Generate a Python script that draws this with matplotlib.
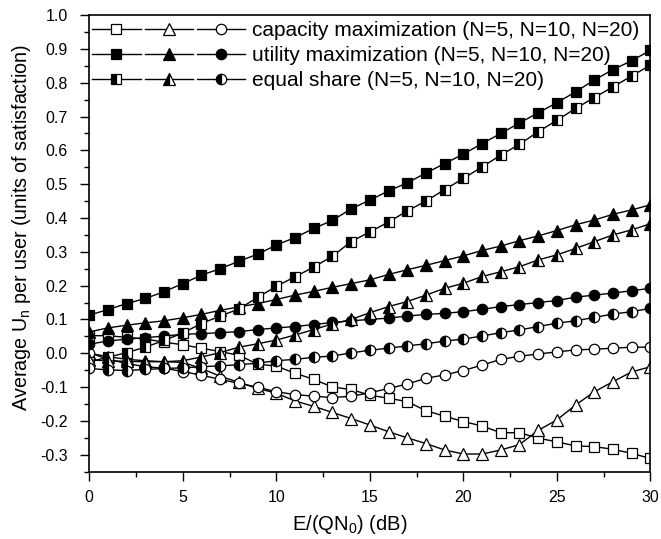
import numpy as np
import matplotlib
matplotlib.use('Agg')
import matplotlib.pyplot as plt
from matplotlib.legend_handler import HandlerTuple
from matplotlib.ticker import MultipleLocator

plt.rcParams['font.family'] = ['Liberation Sans', 'DejaVu Sans']
plt.rcParams['axes.unicode_minus'] = False
plt.rcParams['mathtext.fontset'] = 'custom'
plt.rcParams['mathtext.rm'] = 'Liberation Sans'
plt.rcParams['mathtext.it'] = 'Liberation Sans'

snr_db = np.arange(0, 31)

cap_n5 = [0.052, 0.052, 0.047, 0.042, 0.033, 0.025, 0.015, 0.005, -0.006, -0.032, -0.038,
          -0.059, -0.077, -0.100, -0.107, -0.124, -0.133, -0.143, -0.170, -0.186, -0.202,
          -0.215, -0.235, -0.235, -0.251, -0.262, -0.274, -0.276, -0.284, -0.296, -0.311]
cap_n10 = [0.000, -0.010, -0.018, -0.022, -0.025, -0.027, -0.045, -0.068, -0.086, -0.104, -0.118,
           -0.141, -0.157, -0.175, -0.193, -0.212, -0.232, -0.250, -0.267, -0.286, -0.298,
           -0.298, -0.286, -0.270, -0.228, -0.197, -0.153, -0.114, -0.084, -0.055, -0.040]
cap_n20 = [0.002, -0.018, -0.030, -0.040, -0.044, -0.054, -0.065, -0.077, -0.089, -0.100, -0.114,
           -0.122, -0.127, -0.131, -0.127, -0.117, -0.104, -0.091, -0.074, -0.064, -0.051,
           -0.035, -0.018, -0.009, -0.002, 0.004, 0.010, 0.012, 0.015, 0.018, 0.018]

util_n5 = [0.113, 0.129, 0.147, 0.162, 0.182, 0.206, 0.231, 0.250, 0.272, 0.293, 0.320,
           0.342, 0.369, 0.393, 0.427, 0.453, 0.480, 0.504, 0.533, 0.561, 0.589,
           0.620, 0.650, 0.681, 0.711, 0.741, 0.773, 0.808, 0.839, 0.865, 0.896]
util_n10 = [0.063, 0.075, 0.083, 0.090, 0.096, 0.105, 0.115, 0.127, 0.137, 0.147, 0.159,
            0.172, 0.183, 0.195, 0.206, 0.217, 0.233, 0.247, 0.260, 0.274, 0.288,
            0.304, 0.317, 0.333, 0.347, 0.363, 0.380, 0.394, 0.411, 0.424, 0.439]
util_n20 = [0.027, 0.036, 0.042, 0.046, 0.051, 0.056, 0.058, 0.061, 0.064, 0.070, 0.075,
            0.079, 0.085, 0.091, 0.096, 0.100, 0.104, 0.110, 0.115, 0.118, 0.123,
            0.130, 0.138, 0.144, 0.150, 0.156, 0.166, 0.172, 0.178, 0.185, 0.192]

eq_n5 = [-0.025, -0.012, 0.002, 0.018, 0.038, 0.060, 0.088, 0.110, 0.131, 0.165, 0.198,
         0.226, 0.255, 0.287, 0.330, 0.359, 0.388, 0.421, 0.450, 0.484, 0.517,
         0.551, 0.586, 0.618, 0.655, 0.689, 0.724, 0.756, 0.788, 0.820, 0.852]
eq_n10 = [-0.020, -0.022, -0.024, -0.025, -0.025, -0.022, -0.011, 0.002, 0.018, 0.028, 0.039,
          0.054, 0.070, 0.087, 0.100, 0.120, 0.138, 0.153, 0.172, 0.192, 0.207,
          0.227, 0.241, 0.256, 0.276, 0.291, 0.310, 0.330, 0.350, 0.365, 0.383]
eq_n20 = [-0.045, -0.049, -0.051, -0.048, -0.045, -0.043, -0.040, -0.037, -0.034, -0.029, -0.022,
          -0.018, -0.012, -0.008, 0.001, 0.009, 0.015, 0.022, 0.028, 0.036, 0.042,
          0.051, 0.061, 0.069, 0.079, 0.089, 0.096, 0.106, 0.116, 0.123, 0.133]

labels = ['capacity maximization (N=5, N=10, N=20)',
          'utility maximization (N=5, N=10, N=20)',
          'equal share (N=5, N=10, N=20)']

fig = plt.figure(figsize=(6.61, 5.39), dpi=100)
ax = fig.add_axes([0.135, 0.125, 0.849, 0.847])

markers = ['s', '^', 'o']
sizes = [7, 8, 7.5]
groups = [
    ([cap_n5, cap_n10, cap_n20], dict(markerfacecolor='white')),
    ([util_n5, util_n10, util_n20], dict(markerfacecolor='black')),
    ([eq_n5, eq_n10, eq_n20], dict(fillstyle='left', markerfacecolor='black',
                                   markerfacecoloralt='white')),
]

handles = []
for series, style in groups:
    row = []
    for vals, m, ms in zip(series, markers, sizes):
        ln, = ax.plot(snr_db, vals, color='black', lw=1.0, marker=m, ms=ms,
                      markeredgecolor='black', markeredgewidth=0.9, **style)
        row.append(ln)
    handles.append(tuple(row))

ax.legend(handles, labels, handler_map={tuple: HandlerTuple(ndivide=None, pad=0.2)},
          loc='upper left', bbox_to_anchor=(0, 0.994), frameon=False, fontsize=15,
          handlelength=7.35, handletextpad=0.29, borderaxespad=0, borderpad=0.15,
          labelspacing=0.3)

ax.set_xlim(0, 30)
ax.set_ylim(-0.35, 1.0)
ax.xaxis.set_major_locator(MultipleLocator(5))
ax.xaxis.set_minor_locator(MultipleLocator(2.5))
ax.yaxis.set_major_locator(MultipleLocator(0.1))
ax.yaxis.set_minor_locator(MultipleLocator(0.05))
ax.yaxis.set_major_formatter(matplotlib.ticker.FormatStrFormatter('%.1f'))
ax.tick_params(which='major', length=6.5, width=1, labelsize=11.5)
ax.tick_params(axis='y', which='major', pad=9)
ax.tick_params(axis='x', which='major', pad=7)
ax.tick_params(which='minor', length=3.5, width=1)
for s in ax.spines.values():
    s.set_linewidth(1.2)

ax.set_xlabel('E/(QN$_0$) (dB)', fontsize=14.5)
ax.set_ylabel('Average U$_n$ per user (units of satisfaction)', fontsize=14.2)
ax.xaxis.set_label_coords(0.465, -0.09)
ax.yaxis.set_label_coords(-0.10, 0.535)

fig.savefig('out.png', dpi=100)
